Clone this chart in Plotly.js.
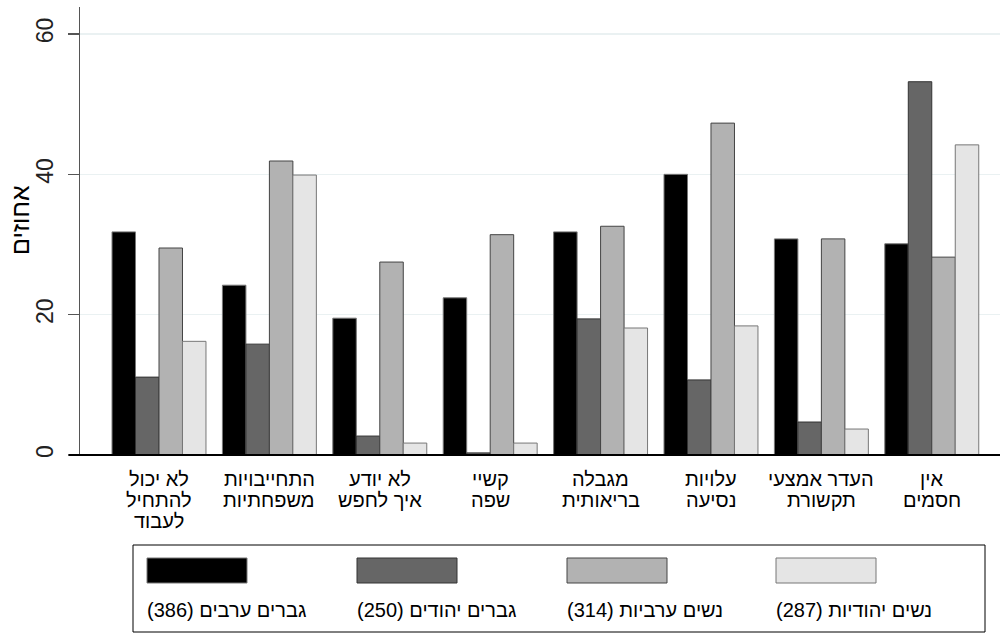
<!DOCTYPE html>
<html>
<head>
<meta charset="utf-8">
<script src="https://cdn.plot.ly/plotly-3.0.1.min.js"></script>
<style>
html,body{margin:0;padding:0;background:#fff;overflow:hidden;}
#chart{width:1000px;height:633px;}
</style>
</head>
<body>
<div id="chart"></div>
<script>
// Categories (barriers)
const categories = [
  "לא יכול<br>להתחיל<br>לעבוד",
  "התחייבויות<br>משפחתיות",
  "לא יודע<br>איך לחפש",
  "קשיי<br>שפה",
  "מגבלה<br>בריאותית",
  "עלויות<br>נסיעה",
  "העדר אמצעי<br>תקשורת",
  "אין<br>חסמים"
];

// Series names
const seriesNames = ["גברים ערבים (386)", "גברים יהודים (250)", "נשים ערביות (314)", "נשים יהודיות (287)"];

// Values (percent)
const arabMen    = [31.8, 24.2, 19.5, 22.4, 31.8, 40.0, 30.8, 30.1];
const jewishMen  = [11.1, 15.8,  2.7,  0.3, 19.4, 10.7,  4.7, 53.2];
const arabWomen  = [29.5, 41.9, 27.5, 31.4, 32.6, 47.3, 30.8, 28.2];
const jewishWomen= [16.2, 39.9,  1.7,  1.7, 18.1, 18.4,  3.7, 44.2];

const seriesValues = [arabMen, jewishMen, arabWomen, jewishWomen];
const fillColors = ["#000000", "#666666", "#b2b2b2", "#e5e5e5"];
const lineColors = ["#777777", "#333333", "#444444", "#777777"];

const yTicks = [0, 20, 40, 60];
const yTitle = "אחוזים";

const FONT = "Liberation Sans, Arial, sans-serif";

// layout geometry
const W = 1000, H = 633;
const M = {l: 80, r: 0, t: 7, b: 178};
const plotW = W - M.l - M.r, plotH = H - M.t - M.b;
const px2x = p => (p - M.l) / plotW;
const py2y = p => (H - M.b - p) / plotH;

const traces = seriesValues.map((vals, i) => ({
  type: "bar",
  name: seriesNames[i],
  x: categories,
  y: vals,
  marker: {color: fillColors[i], line: {color: lineColors[i], width: 1}},
  hoverinfo: "x+y",
  showlegend: false
}));

const shapes = [
  {type: "rect", xref: "paper", yref: "paper",
   x0: px2x(133), x1: px2x(985), y0: py2y(632), y1: py2y(545),
   line: {color: "#000", width: 1}, fillcolor: "rgba(0,0,0,0)"},
  {type: "line", xref: "paper", yref: "paper",
   x0: px2x(69), x1: 1, y0: 0, y1: 0,
   line: {color: "#000", width: 2}}
];
const annotations = [];

// category labels with tight (Stata-like) line spacing
categories.forEach(cat => {
  cat.split("<br>").forEach((line, j) => {
    annotations.push({xref: "x", yref: "paper", x: cat, y: 0,
      xanchor: "center", yanchor: "middle", yshift: -(24 + j * 21),
      text: line, showarrow: false,
      font: {family: FONT, size: 20, color: "#000"}});
  });
});

// y axis title
annotations.push({xref: "paper", yref: "paper", x: px2x(20), y: py2y(220),
  xanchor: "center", yanchor: "middle", textangle: -90,
  text: yTitle, showarrow: false,
  font: {family: FONT, size: 25, color: "#000"}});

// custom legend: swatch on top, label below (Stata style)
const colLeft = [147, 357, 567, 776];
seriesNames.forEach((nm, i) => {
  shapes.push({type: "rect", xref: "paper", yref: "paper",
    x0: px2x(colLeft[i]), x1: px2x(colLeft[i] + 100),
    y0: py2y(583), y1: py2y(558),
    fillcolor: fillColors[i], line: {color: lineColors[i], width: 1}});
  annotations.push({xref: "paper", yref: "paper",
    x: px2x(colLeft[i] - 2), y: py2y(610),
    xanchor: "left", yanchor: "middle",
    text: "\u202B" + nm + "\u202C", showarrow: false,
    font: {family: FONT, size: 20, color: "#000"}});
});

const layout = {
  width: W, height: H,
  margin: M,
  paper_bgcolor: "#fff", plot_bgcolor: "#fff",
  barmode: "group", bargap: 0.149, bargroupgap: 0,
  showlegend: false,
  font: {family: FONT, color: "#000"},
  xaxis: {
    type: "category",
    range: [-0.7156, 7.618],
    showline: false, showgrid: false, zeroline: false,
    ticks: "", showticklabels: false,
    fixedrange: true
  },
  yaxis: {
    range: [0, 63.85],
    tickvals: yTicks,
    ticktext: yTicks.map(String),
    showgrid: true, gridcolor: "#eaf1f2", gridwidth: 1.5,
    zeroline: false,
    showline: true, linecolor: "#555", linewidth: 1.5,
    ticks: "outside", ticklen: 11, tickcolor: "#555", tickwidth: 1.5,
    tickangle: -90,
    tickfont: {family: FONT, size: 23, color: "#222"},
    ticklabelstandoff: 5,
    fixedrange: true
  },
  shapes: shapes,
  annotations: annotations
};

Plotly.newPlot("chart", traces, layout, {displayModeBar: false, staticPlot: true});
</script>
</body>
</html>
